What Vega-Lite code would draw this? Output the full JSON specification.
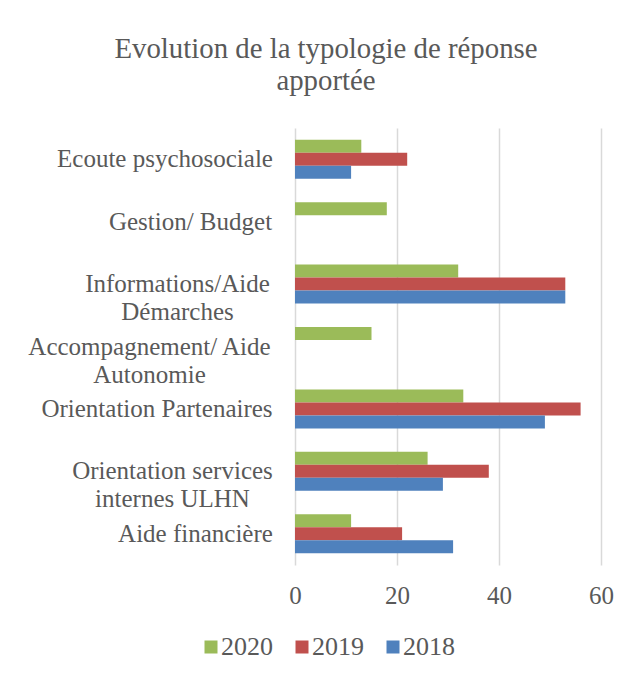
{
  "$schema": "https://vega.github.io/schema/vega-lite/v6.json",
  "autosize": {"type": "none"},
  "width": 306,
  "height": 437,
  "padding": {"left": 295, "top": 128, "right": 31, "bottom": 112},
  "background": "white",
  "title": {
    "text": ["Evolution de la typologie  de réponse", "apportée"],
    "font": "Liberation Serif",
    "fontSize": 28.8,
    "fontWeight": "normal",
    "color": "#595959",
    "anchor": "middle",
    "frame": "group",
    "dx": -122,
    "lineHeight": 32,
    "offset": 32
  },
  "data": {
    "values": [
      {"category": "Ecoute psychosociale", "year": "2020", "value": 13},
      {"category": "Ecoute psychosociale", "year": "2019", "value": 22},
      {"category": "Ecoute psychosociale", "year": "2018", "value": 11},
      {"category": "Gestion/ Budget", "year": "2020", "value": 18},
      {"category": "Informations/Aide Démarches", "year": "2020", "value": 32},
      {"category": "Informations/Aide Démarches", "year": "2019", "value": 53},
      {"category": "Informations/Aide Démarches", "year": "2018", "value": 53},
      {"category": "Accompagnement/ Aide Autonomie", "year": "2020", "value": 15},
      {"category": "Orientation  Partenaires", "year": "2020", "value": 33},
      {"category": "Orientation  Partenaires", "year": "2019", "value": 56},
      {"category": "Orientation  Partenaires", "year": "2018", "value": 49},
      {"category": "Orientation services internes ULHN", "year": "2020", "value": 26},
      {"category": "Orientation services internes ULHN", "year": "2019", "value": 38},
      {"category": "Orientation services internes ULHN", "year": "2018", "value": 29},
      {"category": "Aide financière", "year": "2020", "value": 11},
      {"category": "Aide financière", "year": "2019", "value": 21},
      {"category": "Aide financière", "year": "2018", "value": 31}
    ]
  },
  "mark": {"type": "bar"},
  "encoding": {
    "y": {
      "field": "category",
      "type": "nominal",
      "sort": ["Ecoute psychosociale", "Gestion/ Budget", "Informations/Aide Démarches", "Accompagnement/ Aide Autonomie", "Orientation  Partenaires", "Orientation services internes ULHN", "Aide financière"],
      "title": null,
      "scale": {"paddingInner": 0.375, "paddingOuter": 0.1875},
      "axis": {
        "domain": false,
        "ticks": false,
        "grid": false,
        "labelAlign": "center",
        "labelFont": "Liberation Serif",
        "labelFontSize": 25,
        "labelColor": "#595959",
        "labelLineHeight": 28,
        "labelLimit": 400,
        "labelExpr": "datum.value == 'Informations/Aide Démarches' ? ['Informations/Aide', 'Démarches'] : datum.value == 'Accompagnement/ Aide Autonomie' ? ['Accompagnement/ Aide', 'Autonomie'] : datum.value == 'Orientation services internes ULHN' ? ['Orientation services', 'internes ULHN'] : datum.label",
        "labelPadding": {"expr": "datum.value == 'Ecoute psychosociale' ? 130.5 : datum.value == 'Gestion/ Budget' ? 105 : datum.value == 'Informations/Aide Démarches' ? 118 : datum.value == 'Accompagnement/ Aide Autonomie' ? 146 : datum.value == 'Orientation  Partenaires' ? 138.5 : datum.value == 'Orientation services internes ULHN' ? 123 : 100"}
      }
    },
    "yOffset": {
      "field": "year",
      "type": "nominal",
      "sort": ["2020", "2019", "2018"],
      "scale": {"domain": ["2020", "2019", "2018"], "paddingInner": 0, "paddingOuter": 0}
    },
    "x": {
      "field": "value",
      "type": "quantitative",
      "scale": {"domain": [0, 60], "nice": false},
      "axis": {
        "values": [0, 20, 40, 60],
        "title": null,
        "grid": true,
        "gridColor": "#d9d9d9",
        "gridWidth": 1.5,
        "domain": false,
        "ticks": false,
        "labelFont": "Liberation Serif",
        "labelFontSize": 25,
        "labelColor": "#595959",
        "labelPadding": 18,
        "labelFlush": false
      }
    },
    "color": {
      "field": "year",
      "type": "nominal",
      "scale": {"domain": ["2020", "2019", "2018"], "range": ["#9BBB59", "#C0504D", "#4F81BD"]},
      "legend": {
        "title": null,
        "orient": "none",
        "direction": "horizontal",
        "legendX": -97,
        "legendY": 506,
        "symbolType": "square",
        "symbolSize": 169,
        "symbolStrokeWidth": 0,
        "symbolOpacity": 1,
        "labelFont": "Liberation Serif",
        "labelFontSize": 26,
        "labelColor": "#595959",
        "labelOffset": -3,
        "columnPadding": 16
      }
    }
  },
  "config": {"view": {"stroke": null}}
}
